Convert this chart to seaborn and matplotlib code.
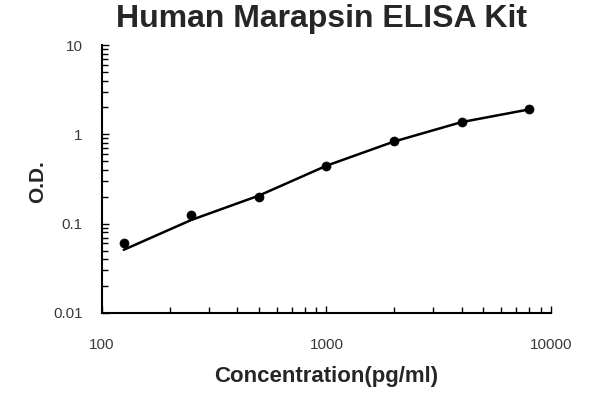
import matplotlib
matplotlib.use("Agg")
import matplotlib.pyplot as plt
import seaborn as sns
import pandas as pd
from matplotlib.ticker import LogLocator, NullFormatter, FixedLocator, FixedFormatter

# data
conc = [125, 250, 500, 1000, 2000, 4000, 8000]
od = [0.061, 0.124, 0.197, 0.438, 0.84, 1.37, 1.9]
curve_x = [125, 250, 500, 1000, 2000, 4000, 8000]
curve_y = [0.051, 0.11, 0.206, 0.445, 0.83, 1.37, 1.9]
title = "Human Marapsin ELISA Kit"
xlabel = "Concentration(pg/ml)"
ylabel = "O.D."
xticks = [100, 1000, 10000]
xticklabels = ["100", "1000", "10000"]
yticks = [0.01, 0.1, 1, 10]
yticklabels = ["0.01", "0.1", "1", "10"]

sns.set_style("white")
plt.rcParams['font.family'] = ['Liberation Sans', 'DejaVu Sans']

fig = plt.figure(figsize=(6, 4), dpi=100)
ax = fig.add_axes([0.17, 0.2175, 0.748, 0.67])

pts = pd.DataFrame({"conc": conc, "od": od})
crv = pd.DataFrame({"conc": curve_x, "od": curve_y})
sns.lineplot(data=crv, x="conc", y="od", ax=ax, color="black", linewidth=1.8)
sns.scatterplot(data=pts, x="conc", y="od", ax=ax, color="black", s=42,
                edgecolor="black", zorder=3)

ax.set_xscale("log")
ax.set_yscale("log")
ax.set_xlim(100, 10000)
ax.set_ylim(0.01, 10)

ax.xaxis.set_major_locator(FixedLocator(xticks))
ax.xaxis.set_major_formatter(FixedFormatter(xticklabels))
ax.yaxis.set_major_locator(FixedLocator(yticks))
ax.yaxis.set_major_formatter(FixedFormatter(yticklabels))
ax.xaxis.set_minor_locator(LogLocator(base=10, subs=range(2, 10)))
ax.yaxis.set_minor_locator(LogLocator(base=10, subs=range(2, 10)))
ax.xaxis.set_minor_formatter(NullFormatter())
ax.yaxis.set_minor_formatter(NullFormatter())

ax.tick_params(axis="both", which="both", direction="in", color="black",
               labelcolor="#3a3a3a", labelsize=11, width=1)
ax.tick_params(axis="x", which="major", length=5, pad=18)
ax.tick_params(axis="x", which="minor", length=4)
ax.tick_params(axis="y", which="major", length=5, pad=14)
ax.tick_params(axis="y", which="minor", length=4)
ax.tick_params(left=True, bottom=True, which="both")

for s in ["top", "right"]:
    ax.spines[s].set_visible(False)
for s in ["left", "bottom"]:
    ax.spines[s].set_color("black")
    ax.spines[s].set_linewidth(1.5)

ax.set_xlabel(xlabel, fontsize=16, fontweight="bold")
ax.xaxis.set_label_coords(0.5, -0.197)
ax.set_ylabel(ylabel, fontsize=15, fontweight="bold")
ax.yaxis.set_label_coords(-0.122, 0.489)
fig.suptitle(title, x=0.536, y=0.99, fontsize=23, fontweight="bold")

fig.savefig("out.png", dpi=100)
